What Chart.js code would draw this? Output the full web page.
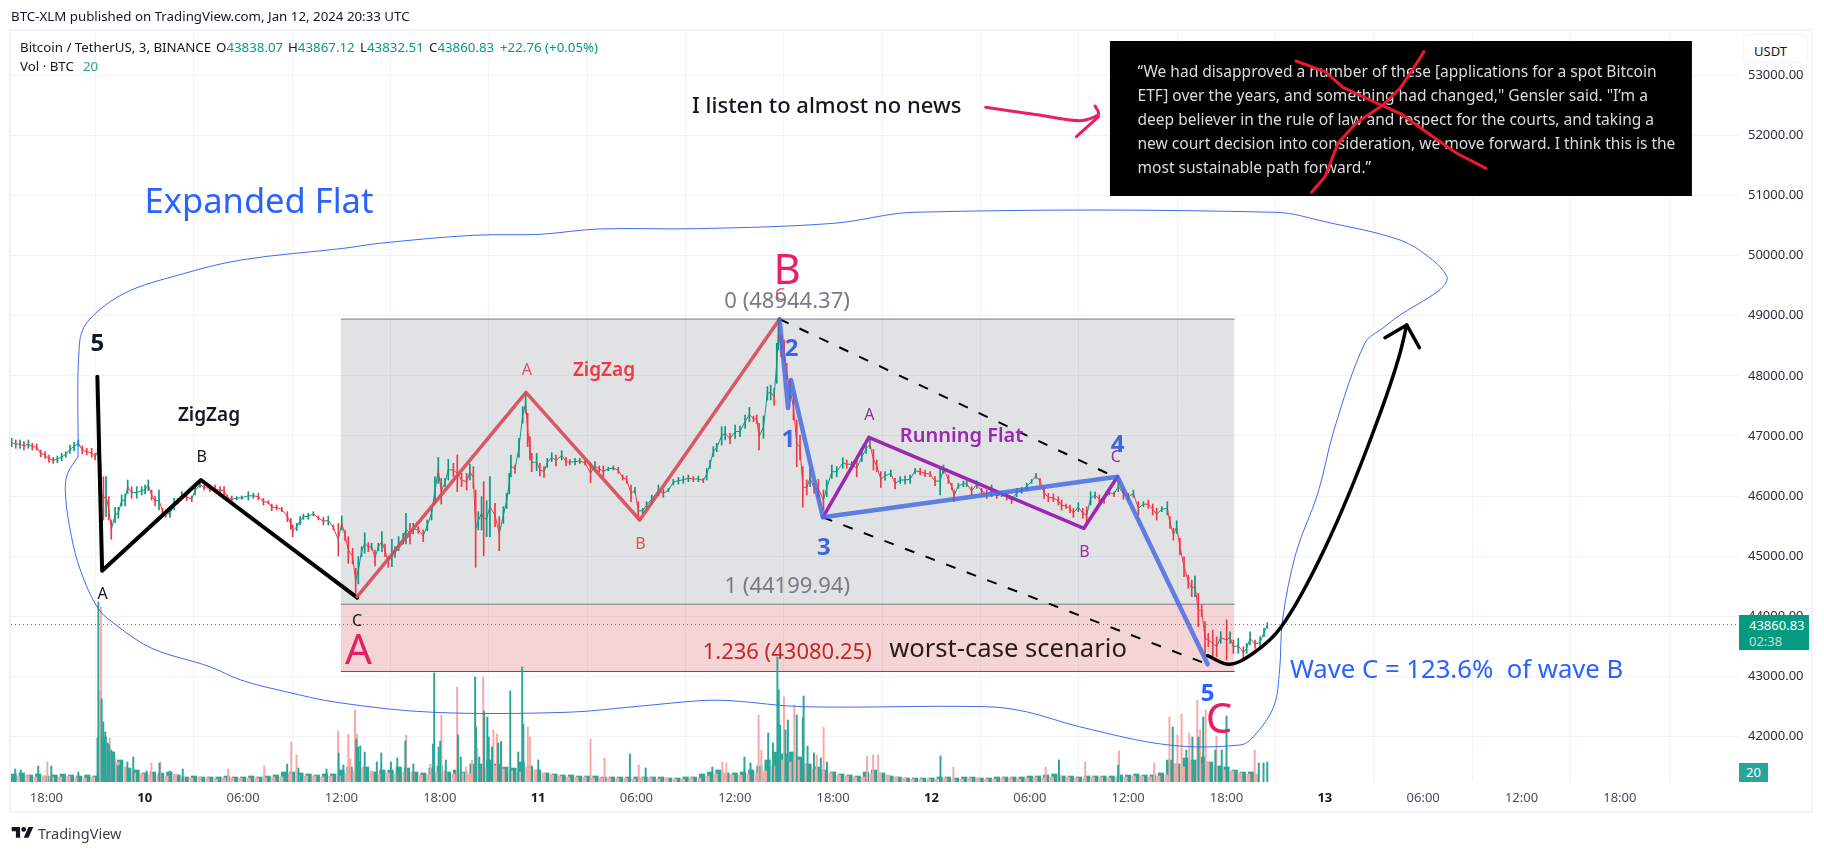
<!DOCTYPE html>
<html>
<head>
<meta charset="utf-8">
<title>BTC-XLM Expanded Flat</title>
<script src="https://cdn.jsdelivr.net/npm/chart.js@4/dist/chart.umd.min.js"></script>
<style>
  html, body { margin: 0; background: #fff; width: 1824px; height: 853px; overflow: hidden; }
  body { font-family: "Noto Sans", sans-serif; color: #131722; }
  #chart { position: absolute; left: 0; top: 0; }
  .frame { position: absolute; left: 9px; top: 29px; width: 1804px; height: 784px; box-sizing: border-box; border: 2px solid #f0f3fa; }
  .txt { position: absolute; white-space: nowrap; line-height: 1; font-size: 13.3px; }
  .val { color: #089981; }
  .usdt { position: absolute; left: 1743px; top: 34px; width: 65px; height: 29px; box-sizing: border-box; border: 1px solid #f0f3fa; border-radius: 6px; background: #fff; font-size: 13px; padding: 7px 0 0 10px; }
  .badge { position: absolute; background: #089981; color: #fff; left: 1739px; top: 615px; width: 70px; height: 35px; font-size: 13px; }
  .badge div { position: absolute; left: 10px; line-height: 1; }
  .volbadge { position: absolute; background: #26a69a; color: #fff; left: 1739px; top: 763px; width: 29px; height: 19px; font-size: 13px; line-height: 19px; text-align: center; }
</style>
</head>
<body>
<div class="frame"></div>
<canvas id="chart" width="1824" height="853"></canvas>

<div class="txt" style="left:11px;top:10px;">BTC-XLM published on TradingView.com, Jan 12, 2024 20:33 UTC</div>
<div class="txt" style="left:20px;top:41px;">Bitcoin / TetherUS, 3, BINANCE</div>
<div class="txt" style="left:216px;top:41px;">O<span class="val">43838.07</span></div>
<div class="txt" style="left:288px;top:41px;">H<span class="val">43867.12</span></div>
<div class="txt" style="left:360px;top:41px;">L<span class="val">43832.51</span></div>
<div class="txt" style="left:429px;top:41px;">C<span class="val">43860.83</span></div>
<div class="txt val" style="left:500px;top:41px;">+22.76 (+0.05%)</div>
<div class="txt" style="left:20px;top:60px;">Vol · BTC</div>
<div class="txt" style="left:83px;top:60px;color:#26a69a;">20</div>

<div class="usdt">USDT</div>
<div class="badge"><div style="top:4px;">43860.83</div><div style="top:20px;opacity:.7;">02:38</div></div>
<div class="volbadge">20</div>

<svg style="position:absolute;left:11px;top:827px;" width="23" height="12" viewBox="0 0 36 20">
  <path d="M14 18H7V7H0V0h14zM28 18h-8L28 0h8z" fill="#131722"/><circle cx="20" cy="4" r="4" fill="#131722"/>
</svg>
<div class="txt" style="left:38px;top:826px;font-size:14.5px;color:#3a3e4a;">TradingView</div>

<script>
// time axis is hours after Jan 9 18:00
const tickHours = [0, 6, 12, 18, 24, 30, 36, 42, 48, 54, 60, 66, 72, 78, 84, 90, 96];
const tickLabels = ['18:00', '10', '06:00', '12:00', '18:00', '11', '06:00', '12:00', '18:00', '12', '06:00', '12:00', '18:00', '13', '06:00', '12:00', '18:00'];
const boldTicks = ['10', '11', '12', '13'];
const priceTicks = [42000, 43000, 44000, 45000, 46000, 47000, 48000, 49000, 50000, 51000, 52000, 53000];

const lastPrice = 43860.83;
const fibZero = 48944.37;
const fibOne = 44199.94;
const fibExt = 43080.25;
const fibHours = [17.97, 72.48];

// price, one candle per ~15 min
const candleHours = [
  -2.12,-1.87,-1.61,-1.37,-1.10,-0.86,-0.59,-0.35,-0.08,0.16,
  0.42,0.67,0.93,1.18,1.44,1.69,1.95,2.19,2.46,2.76,
  2.97,3.13,3.31,3.48,3.64,3.80,3.96,4.19,4.39,4.59,
  4.80,4.96,5.20,5.51,5.81,6.02,6.22,6.42,6.63,6.87,
  7.08,7.28,7.54,7.79,8.01,8.26,8.56,8.87,9.07,9.37,
  9.62,9.98,10.29,10.59,10.84,11.04,11.31,11.61,11.92,12.32,
  12.63,12.93,13.24,13.54,13.75,14.05,14.36,14.70,14.91,15.03,
  15.27,15.48,15.68,15.98,16.29,16.59,16.90,17.20,17.51,17.81,
  18.02,18.22,18.42,18.68,18.87,19.03,19.23,19.42,19.64,19.84,
  20.05,20.25,20.47,20.66,20.86,21.08,21.27,21.49,21.77,21.94,
  22.18,22.38,22.69,22.99,23.24,23.50,23.71,23.91,24.09,24.32,
  24.52,24.83,25.07,25.33,25.64,25.84,26.05,26.19,26.35,26.55,
  26.68,26.86,27.06,27.37,27.63,27.88,28.08,28.24,28.34,28.59,
  28.83,29.06,29.24,29.36,29.50,29.61,29.91,30.11,30.36,30.56,
  30.83,31.09,31.44,31.70,31.94,32.25,32.55,32.86,33.20,33.47,
  33.73,33.98,34.28,34.59,34.89,35.16,35.40,35.67,35.91,36.11,
  36.38,36.62,36.93,37.34,37.64,37.95,38.25,38.56,38.86,39.17,
  39.47,39.78,40.08,40.29,40.49,40.69,40.90,41.20,41.41,41.71,
  42.02,42.32,42.63,42.89,43.14,43.34,43.48,43.75,43.99,44.19,
  44.40,44.56,44.66,44.82,45.01,45.17,45.37,45.58,45.78,45.98,
  46.15,46.39,46.59,46.84,47.10,47.41,47.61,47.92,48.22,48.59,
  48.83,49.14,49.44,49.75,50.01,50.25,50.46,50.66,50.91,51.17,
  51.52,51.78,52.09,52.39,52.70,53.00,53.31,53.61,53.92,54.22,
  54.53,54.73,55.03,55.24,55.38,55.64,55.95,56.15,56.45,56.76,
  57.06,57.37,57.67,57.98,58.28,58.59,58.89,59.20,59.50,59.81,
  60.11,60.38,60.62,60.87,61.13,61.44,61.74,61.94,62.21,62.45,
  62.66,62.96,63.23,63.47,63.71,63.98,64.24,64.53,64.85,65.14,
  65.40,65.71,66.01,66.32,66.62,66.93,67.23,67.50,67.74,68.05,
  68.39,68.55,68.76,68.96,69.16,69.41,69.67,69.88,70.08,70.28,
  70.49,70.69,70.89,71.16,71.40,71.65,72.01,72.22,72.42,72.72,
  73.03,73.23,73.44,73.74,74.05,74.29,74.49
];
const candleHighs = [
  46960,46933,46933,46905,46933,46877,46866,46766,46738,46683,
  46644,46666,46711,46738,46849,46888,46933,46833,46794,46794,
  46711,46794,46544,46322,46322,45990,45601,45812,45812,46017,
  46034,46267,46156,46156,46156,46184,46267,46100,45990,46100,
  45795,45768,45768,45962,45962,46073,46034,46001,46156,46239,
  46184,46184,46184,46156,46156,46017,46001,45990,46001,46073,
  46045,46045,45962,45923,45868,45851,45812,45740,45629,45518,
  45546,45657,45701,45712,45740,45668,45646,45668,45518,45546,
  45668,45435,45324,45130,44797,44991,45157,45390,45224,45213,
  45102,45213,45407,45202,44991,45280,45157,45324,45379,45712,
  45546,45546,45490,45435,45601,45823,46322,46644,46295,46295,
  46611,46544,46683,46378,46378,46533,46489,46100,45740,45990,
  46239,45923,46322,45879,45657,45823,46045,46378,46683,46517,
  46960,47487,47709,47376,46988,46711,46711,46544,46489,46627,
  46722,46683,46755,46644,46611,46627,46627,46589,46544,46572,
  46500,46500,46478,46500,46478,46350,46333,46184,46145,45906,
  45795,45906,46017,46183,46111,46128,46278,46311,46333,46350,
  46322,46333,46294,46460,46599,46821,46877,47154,47154,47043,
  47182,47165,47348,47476,47331,47348,47209,47331,47820,47847,
  47792,48541,48944,48679,48596,48208,47930,47709,47265,47015,
  46488,46266,46444,46211,46277,46100,46266,46516,46488,46638,
  46599,46571,46599,46738,46849,46932,46777,46599,46405,46405,
  46433,46294,46322,46333,46350,46461,46461,46433,46405,46322,
  46488,46516,46350,46211,46100,46211,46250,46255,46155,46255,
  46128,46100,46183,46044,46072,46044,45989,46128,46144,46211,
  46277,46377,46294,46155,46044,46033,45989,45933,45867,45850,
  45795,45889,45795,45823,46072,46072,46017,45989,46100,46072,
  46255,46128,46044,46100,45906,45906,45933,45867,45795,45823,
  45906,45656,45462,45590,45296,44990,44685,44602,44669,44380,
  44186,43909,43715,43770,43659,43742,43937,43742,43604,43631,
  43493,43548,43742,43604,43659,43798,43892
];
const candleLows = [
  46822,46794,46794,46766,46794,46766,46766,46655,46627,46561,
  46544,46555,46589,46644,46711,46755,46822,46700,46683,46644,
  46600,46683,45601,45601,45657,45601,45280,45557,45629,45834,
  45834,46045,45962,45962,46017,46034,46089,45934,45834,45768,
  45701,45646,45646,45768,45868,45962,45923,45906,46017,46145,
  46100,46073,46056,46034,46017,45945,45890,45934,45945,45934,
  45962,45934,45851,45868,45757,45768,45740,45574,45446,45324,
  45424,45518,45612,45612,45668,45601,45518,45518,45435,45002,
  45435,45257,44880,44869,44381,44536,44991,45047,45074,45102,
  44836,45091,45074,44991,44813,44825,44980,45091,45202,45202,
  45202,45368,45379,45241,45424,45601,45867,46211,45867,46156,
  46267,46322,46073,46156,46100,46267,46128,44813,45435,45435,
  45008,45324,45324,45490,45091,45546,45795,46034,46322,46378,
  46644,47210,47376,46822,46600,46405,46422,46333,46311,46478,
  46572,46500,46600,46500,46517,46517,46544,46517,46222,46422,
  46405,46322,46422,46433,46378,46267,46211,45906,46045,45601,
  45712,45795,45879,46000,45978,46072,46183,46200,46211,46239,
  46239,46239,46222,46266,46460,46655,46738,46849,46932,46866,
  46960,46988,47126,47237,47237,47209,46766,46960,47598,47598,
  47514,47875,48430,48319,48236,47930,47598,47265,46488,46599,
  45812,46017,46155,46044,45961,45767,45989,46294,46322,46460,
  46460,46488,46322,46571,46710,46793,46433,46405,46144,46266,
  46322,46117,46211,46200,46211,46377,46350,46322,46322,46172,
  46017,46377,46211,46100,45906,46128,46155,46155,46017,46128,
  46044,45961,45989,45961,45989,45933,45878,45989,46044,46100,
  46211,46294,46183,45961,45906,45906,45850,45767,45795,45723,
  45645,45739,45628,45545,45850,45961,45878,45878,46017,45989,
  46072,45945,45933,45978,45684,45823,45795,45684,45601,45739,
  45684,45462,45268,45379,45018,44658,44464,44325,44325,43826,
  43992,43354,43493,43326,43326,43548,43271,43548,43382,43382,
  43299,43382,43521,43465,43465,43659,43798
];

// volume: a low half-hourly floor plus the single tall bars
const volFloorStart = -2;
const volFloorUp = [
  8,9,7,8,6,7,8,7,6,7,6,45,30,22,14,12,9,10,9,10,7,5,6,5,5,5,6,5,5,6,5,6,7,10,10,9,8,7,8,8,
  12,15,20,15,10,12,12,15,14,10,9,14,16,10,12,10,18,18,22,18,15,14,20,16,12,9,8,7,7,6,6,6,5,5,5,5,5,
  5,5,5,4,4,5,5,8,10,12,9,9,10,12,16,22,30,28,30,25,18,15,12,10,8,7,6,10,12,9,6,5,4,4,4,4,5,5,4,5,5,4,4,5,5,5,5,
  6,6,7,8,6,6,5,6,6,6,6,7,7,8,7,7,9,22,18,24,22,25,20,16,15,12,10,10
];
const volFloorDown = [
  6,7,5,6,5,5,6,5,4,5,5,30,20,15,9,8,7,7,6,8,5,4,5,4,3,4,4,4,4,4,4,5,5,8,7,6,6,5,6,6,
  9,11,14,11,8,9,8,10,10,7,7,10,11,8,9,8,13,14,16,13,11,10,15,12,9,7,6,5,5,5,4,4,4,4,4,3,4,
  4,3,4,3,3,4,4,6,8,9,7,7,8,9,11,16,22,20,22,18,13,11,9,7,6,5,5,8,9,7,5,4,3,3,3,3,4,3,3,4,4,3,3,4,4,3,4,
  5,4,5,6,5,4,4,5,5,4,5,5,6,6,5,6,7,18,15,20,18,20,15,12,11,9,8,8
];
const upSpikeHours = [
  3.17,3.12,3.37,3.47,3.59,3.74,3.83,3.96,4.05,4.15,4.35,4.45,4.57,4.94,5.30,6.11,6.90,7.53,8.32,-0.50,-1.90,0.30,1.95,-1.56,
  14.69,15.38,17.09,17.83,18.12,18.91,19.01,19.15,19.42,20.16,20.43,21.02,21.41,21.90,22.39,23.59,23.66,23.93,24.03,24.37,
  25.11,25.28,26.16,26.21,26.41,26.70,26.90,26.99,27.19,27.56,27.73,28.30,28.79,29.03,29.10,30.01,35.60,
  36.56,40.63,42.59,42.96,44.04,44.33,44.60,44.68,44.77,45.09,45.24,45.78,46.15,46.20,46.44,46.83,47.25,47.62,
  54.55,61.78,65.39,68.72,69.55,69.92,70.29,70.58,71.32,71.71,72.00,73.97,74.26,74.49
];
const upSpikeVols = [
  180,44,83,60,50,39,37,32,30,25,16,17,18,20,25,11,19,11,13,16,13,16,10,12,
  18,14,13,29,17,43,35,36,30,20,29,20,24,41,18,38,109,35,41,22,
  47,25,105,55,25,71,65,45,35,39,40,91,30,115,58,22,28,
  14,15,25,19,49,39,125,92,57,52,62,67,64,86,36,29,24,20,
  26,22,17,55,32,45,45,65,32,32,66,19,19,20
];
const downSpikeHours = [
  0.06,3.29,3.34,3.86,6.41,6.95,11.09,13.29,14.94,15.26,17.80,18.42,18.54,18.83,18.96,21.95,23.44,24.10,
  25.06,25.60,25.97,26.16,26.29,26.65,27.27,27.49,27.76,29.37,29.50,33.20,34.05,36.14,
  41.24,41.49,43.45,43.62,45.00,45.63,47.00,47.42,50.07,50.44,50.75,55.34,60.97,63.38,65.44,67.59,
  68.52,69.01,69.26,69.73,70.22,70.39,70.73,71.39,73.72
];
const downSpikeVols = [
  20,91,175,44,19,20,13,16,40,27,51,48,23,72,48,47,18,67,
  95,15,22,69,34,105,52,48,41,55,45,43,24,17,
  20,19,67,32,85,77,27,55,26,27,27,15,15,20,31,19,
  65,47,68,49,82,52,72,46,32
];

// drawn studies, [hour, price]
const blackWave = [[3.11,47986],[3.40,44757],[9.43,46267],[18.96,44308]];
const redWave = [[18.96,44325],[29.26,47726],[36.20,45601],[44.73,48944]];
const blueWave = [[44.73,48944],[45.25,47465],[45.43,47931],[47.37,45646],[65.35,46322],[70.85,43200]];
const purpleWave = [[47.37,45646],[50.18,46977],[63.30,45463],[65.35,46322]];
const upperChannel = [[44.73,48944],[64.94,46350]];
const lowerChannel = [[47.37,45646],[70.85,43200]];
const forecastCurve = [[70.85,43343],[72.15,43200],[73.65,43388],[75.29,43804],[78.01,45135],[81.00,47099],[82.59,48380],[83.00,48846]];
const forecastHead = [[81.67,48635],[83.00,48846],[83.77,48469]];
const newsArrow = [[57.31,52469],[60.56,52341],[63.03,52246],[63.98,52313],[64.20,52369],[63.98,52491]];
const newsArrowHead = [[64.20,52313],[62.84,51980]];
const crossStrokeA = [[76.24,53240],[78.01,53062],[79.11,52802],[81.55,52491],[82.59,52369],[83.60,52175],[84.60,51980],[86.05,51704],[87.83,51454]];
const crossStrokeB = [[77.19,51055],[78.01,51314],[78.80,51870],[79.90,52203],[81.55,52508],[82.59,52786],[83.20,53035],[83.60,53202],[84.05,53395]];
const flatOutline = [
  [1.93,46655],[2.02,48547],[2.60,48930],[4.80,49379],[8.07,49678],[11.87,49928],[18.15,50123],[20.32,50206],[26.03,50339],
  [30.12,50356],[33.66,50444],[39.64,50449],[48.05,50539],[52.93,50722],[75.02,50722],[78.01,50565],[82.59,50260],[84.42,49961],
  [85.45,49650],[85.21,49484],[84.42,49317],[82.59,49013],[81.55,48796],[80.45,48547],[78.56,47099],[77.58,46050],
  [76.24,45052],[75.42,43937],[75.24,43105],[74.88,42494],[73.65,41995],[72.83,41857],[68.47,41857],[63.03,42161],[59.77,42411],
  [57.31,42494],[46.14,42494],[41.77,42594],[39.88,42594],[35.85,42494],[31.76,42401],[23.59,42401],[17.85,42561],[14.60,42744],
  [11.87,42938],[9.97,43160],[6.43,43466],[4.25,43854],[3.15,44132],[2.07,44769],[1.53,45323],[1.17,45989],[1.26,46350],[1.93,46655]
];
const quoteBoxHours = [64.88, 100.40];
const quoteBoxPrices = [53572, 50993];

const quoteLines = [
  '“We had disapproved a number of these [applications for a spot Bitcoin',
  'ETF] over the years, and something had changed," Gensler said. "I’m a',
  'deep believer in the rule of law and respect for the courts, and taking a',
  'new court decision into consideration, we move forward. I think this is the',
  'most sustainable path forward.”'
];
const quotePrices = [53045, 52641, 52253, 51853, 51448];
const quoteHour = 66.57;

const pink = '#e91e63', redWaveColor = '#dd4f5d', waveBlue = '#3f66e0', textBlue = '#2962ff', purple = '#9c27b0';
const notes = [
  ['Expanded Flat', 12.97, 50870, textBlue, 34.5, 400],
  ['I listen to almost no news', 47.61, 52474, '#131722', 22, 500],
  ['ZigZag', 9.92, 47337, '#131722', 19, 600],
  ['5', 3.11, 48530, '#131722', 24, 700],
  ['A', 3.43, 44370, '#131722', 16, 400],
  ['B', 9.48, 46645, '#131722', 16, 400],
  ['C', 18.95, 43920, '#131722', 16, 400],
  ['A', 19.04, 43398, pink, 42, 400],
  ['A', 29.31, 48097, redWaveColor, 16, 400],
  ['ZigZag', 34.02, 48081, '#f23645', 19, 600],
  ['B', 36.25, 45197, redWaveColor, 16, 400],
  ['B', 45.19, 49733, pink, 42, 400],
  ['C', 44.76, 49346, redWaveColor, 16, 400],
  ['0 (48944.37)', 45.19, 49239, '#787b86', 22, 400],
  ['1 (44199.94)', 45.2, 44484, '#787b86', 22, 400],
  ['1.236 (43080.25)', 45.2, 43391, '#c62828', 22, 400],
  ['2', 45.46, 48447, waveBlue, 24, 700],
  ['1', 45.27, 46932, waveBlue, 24, 700],
  ['3', 47.43, 45130, waveBlue, 24, 700],
  ['4', 65.35, 46849, waveBlue, 24, 700],
  ['5', 70.85, 42700, textBlue, 24, 700],
  ['C', 71.54, 42261, pink, 42, 400],
  ['A', 50.21, 47349, purple, 16, 400],
  ['B', 63.33, 45064, purple, 16, 400],
  ['C', 65.24, 46645, purple, 16, 400],
  ['Running Flat', 55.84, 46987, purple, 20, 600],
  ['worst-case scenario', 58.67, 43450, '#2a1a1a', 25.6, 400],
  ['Wave C = 123.6%  of wave B', 86.04, 43100, textBlue, 25.7, 400]
];

const upColor = '#089981', downColor = '#f23645', volUp = '#2ba69a', volDown = '#f9a8a4';
const labelFont = '"Noto Sans", sans-serif';

function pts(rows) {
  return rows.map(r => ({ x: r[0], y: r[1] }));
}

function stroke(rows, color, width, order, extra) {
  return Object.assign({
    type: 'line', data: pts(rows), borderColor: color, borderWidth: width, order: order,
    pointRadius: 0, tension: 0, fill: false, borderCapStyle: 'round', borderJoinStyle: 'round'
  }, extra || {});
}

function zone(hours, top, bottom, lineColor, fillColor, order) {
  return stroke(hours.map(h => [h, top]), lineColor, 1, order, { fill: { value: bottom }, backgroundColor: fillColor });
}

function volBars(xs, ys, color, thickness, order) {
  return {
    type: 'bar', yAxisID: 'vol', grouped: false, order: order, backgroundColor: color, barThickness: thickness,
    data: xs.map((x, i) => ({ x: x, y: ys[i] }))
  };
}

const mids = candleHours.map((h, i) => ({ x: h, y: (candleHighs[i] + candleLows[i]) / 2 }));
const candleColors = mids.map((m, i) => (i === 0 || m.y >= mids[i - 1].y) ? upColor : downColor);

const datasets = [
  zone(fibHours, fibZero, fibOne, '#787b86', 'rgba(120,125,130,0.22)', 60),
  zone(fibHours, fibOne, fibExt, '#787b86', 'rgba(200,40,40,0.2)', 59),
  stroke(fibHours.map(h => [h, fibExt]), '#c62828', 1, 58),
  volBars(volFloorUp.map((v, i) => volFloorStart + i * 0.5), volFloorUp, volUp, 5.5, 50),
  volBars(volFloorDown.map((v, i) => volFloorStart + 0.34 + i * 0.5), volFloorDown, volDown, 3.5, 49),
  volBars(downSpikeHours, downSpikeVols, volDown, 1.3, 48),
  volBars(upSpikeHours, upSpikeVols, volUp, 1.3, 47),
  stroke([[-2.16, lastPrice], [103.27, lastPrice]], upColor, 1, 46, { borderDash: [1, 3], borderCapStyle: 'butt' }),
  {
    type: 'bar', grouped: false, order: 31, barThickness: 1, backgroundColor: candleColors,
    data: candleHours.map((h, i) => ({ x: h, y: [candleLows[i], candleHighs[i]] }))
  },
  {
    type: 'line', order: 30, data: mids, borderWidth: 1, pointRadius: 0, tension: 0, fill: false,
    segment: { borderColor: c => c.p1.parsed.y >= c.p0.parsed.y ? upColor : downColor }
  },
  stroke(flatOutline, '#3b6cf5', 1, 20, { tension: 0.35 }),
  stroke(blackWave, '#000', 4, 16),
  stroke(redWave, 'rgba(217,72,88,0.9)', 3.5, 15),
  stroke(upperChannel, '#000', 2, 14, { borderDash: [10, 12], borderCapStyle: 'butt' }),
  stroke(lowerChannel, '#000', 2, 14, { borderDash: [10, 12], borderCapStyle: 'butt' }),
  stroke(purpleWave, '#9c27b0', 3.5, 13),
  stroke(blueWave, 'rgba(72,108,228,0.85)', 4.5, 12),
  stroke(forecastCurve, '#000', 3.5, 11, { cubicInterpolationMode: 'monotone' }),
  stroke(forecastHead, '#000', 3.5, 11),
  stroke(newsArrow, pink, 3, 10, { tension: 0.4 }),
  stroke(newsArrowHead, pink, 3, 10),
  stroke(quoteBoxHours.map(h => [h, quoteBoxPrices[0]]), '#000', 0, 8, {
    label: 'quote box', fill: { value: quoteBoxPrices[1] }, backgroundColor: '#000'
  }),
  stroke(crossStrokeA, '#f0182c', 3, 5),
  stroke(crossStrokeB, '#f0182c', 3, 5)
];

const notesPlugin = {
  id: 'notes',
  afterDatasetDraw(chart, args) {
    if (chart.data.datasets[args.index].label !== 'quote box') return;
    const ctx = chart.ctx;
    ctx.save();
    ctx.font = '15.55px ' + labelFont;
    ctx.fillStyle = '#dcdcdc';
    ctx.textAlign = 'left';
    ctx.textBaseline = 'middle';
    quoteLines.forEach((t, i) => {
      ctx.fillText(t, chart.scales.x.getPixelForValue(quoteHour), chart.scales.y.getPixelForValue(quotePrices[i]));
    });
    ctx.restore();
  },
  afterDatasetsDraw(chart) {
    const ctx = chart.ctx;
    ctx.save();
    ctx.textAlign = 'center';
    ctx.textBaseline = 'middle';
    notes.forEach(n => {
      ctx.font = n[5] + ' ' + n[4] + 'px ' + labelFont;
      ctx.fillStyle = n[3];
      ctx.fillText(n[0], chart.scales.x.getPixelForValue(n[1]), chart.scales.y.getPixelForValue(n[2]));
    });
    ctx.restore();
  }
};

new Chart(document.getElementById('chart'), {
  type: 'line',
  data: { datasets: datasets },
  plugins: [notesPlugin],
  options: {
    responsive: false,
    animation: false,
    devicePixelRatio: 1,
    layout: { autoPadding: false, padding: { left: 11, right: 11, top: 31, bottom: 40 } },
    plugins: { legend: { display: false }, tooltip: { enabled: false } },
    scales: {
      x: {
        type: 'linear', min: -2.16, max: 103.27, offset: false,
        afterFit: s => { s.height = 31; },
        afterBuildTicks: s => { s.ticks = tickHours.map(v => ({ value: v })); },
        border: { display: false },
        grid: { color: '#f0f3fa', drawTicks: false },
        ticks: {
          autoSkip: false, maxRotation: 0, padding: 8,
          callback: v => tickLabels[tickHours.indexOf(v)],
          font: c => ({ family: labelFont, size: 13, weight: boldTicks.includes(tickLabels[c.index]) ? '700' : '400' }),
          color: c => boldTicks.includes(tickLabels[c.index]) ? '#131722' : '#4a4e5a'
        }
      },
      y: {
        type: 'linear', position: 'right', min: 41241, max: 53739,
        afterFit: s => { s.width = 74; },
        afterBuildTicks: s => { s.ticks = priceTicks.map(v => ({ value: v })); },
        border: { display: false },
        grid: { color: '#f0f3fa', drawTicks: false },
        ticks: {
          padding: 9, color: '#2a2e39', font: { family: labelFont, size: 13 },
          callback: v => v.toFixed(2)
        }
      },
      vol: { type: 'linear', display: false, min: 0, max: 751 }
    }
  }
});
</script>
</body>
</html>
